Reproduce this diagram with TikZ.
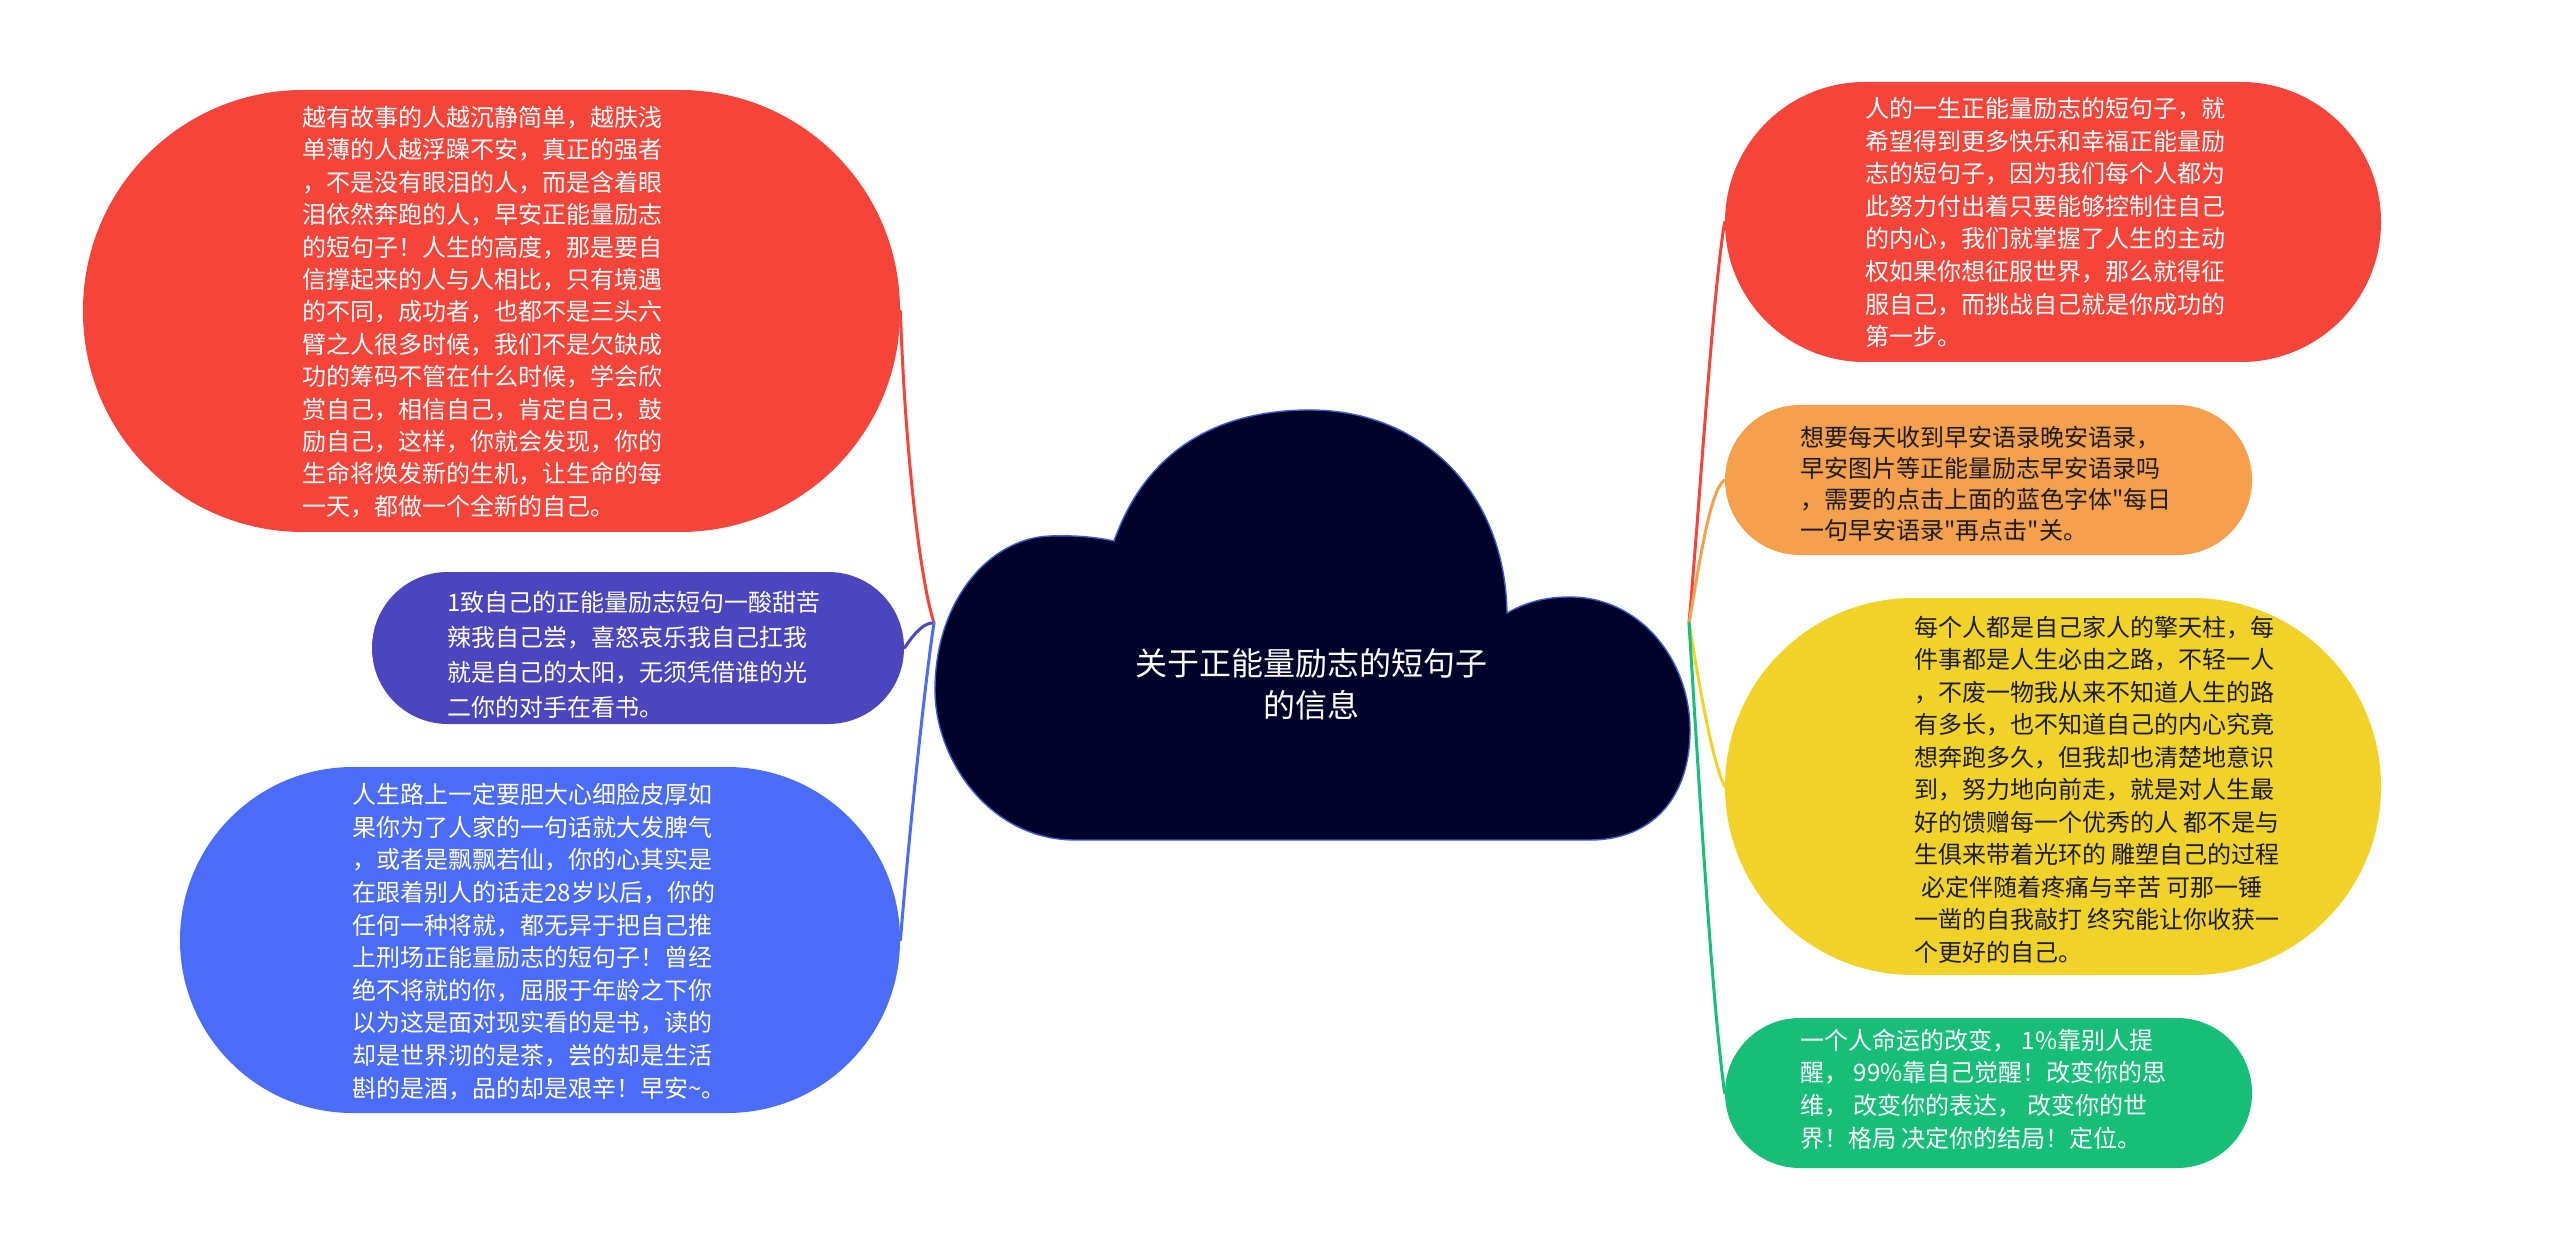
\documentclass[tikz,border=0pt]{standalone}
\usepackage{fontspec}
\newfontfamily\cjk{Noto Sans CJK SC}
\definecolor{cRed}{HTML}{F5443A}
\definecolor{cPurple}{HTML}{4C46BE}
\definecolor{cBlue}{HTML}{4A6CF7}
\definecolor{cOrange}{HTML}{F4A04C}
\definecolor{cYellow}{HTML}{F0D228}
\definecolor{cGreen}{HTML}{16BE78}
\definecolor{cCloud}{HTML}{000229}
\definecolor{cCloudLine}{HTML}{3A5CCC}
\definecolor{cDark}{HTML}{1C1C1C}
\begin{document}
\begin{tikzpicture}[x=0.5pt,y=-0.5pt,
  bubble/.style={rectangle, inner sep=0pt, draw=none},
  txt/.style={inner sep=0pt, align=left, anchor=west},
  link/.style={line width=1.5pt, line cap=round}]
\useasboundingbox (0,0) rectangle (2560,1251);

% central cloud
\filldraw[fill=cCloud, draw=cCloudLine, line width=0.7pt]
  (1075,840) .. controls (990,840) and (935,760) .. (935,690)
  .. controls (935,600) and (990,538) .. (1050,536)
  .. controls (1080,535) and (1100,538) .. (1114,541)
  .. controls (1150,440) and (1230,410) .. (1310,410)
  .. controls (1420,410) and (1505,490) .. (1507,613)
  .. controls (1530,600) and (1550,597) .. (1570,597)
  .. controls (1640,597) and (1690,660) .. (1690,730)
  .. controls (1690,800) and (1650,840) .. (1590,840) -- cycle;
\coordinate (cl) at (934,623);
\coordinate (cr) at (1689,623);
\node[font={\cjk\fontsize{16pt}{21pt}\selectfont}, text=white, align=center, inner sep=0pt] (c) at (1311,684) {关于正能量励志的短句子\\的信息};

% left bubbles
\node[bubble, fill=cRed, minimum width=408.5pt, minimum height=221pt, rounded corners=110pt] (l1) at (491.5,311) {};
\node[bubble, fill=cPurple, minimum width=266pt, minimum height=76pt, rounded corners=37.9pt] (l2) at (638,648) {};
\node[bubble, fill=cBlue, minimum width=360pt, minimum height=173pt, rounded corners=86.4pt] (l3) at (540,940) {};

% right bubbles
\node[bubble, fill=cRed, minimum width=328pt, minimum height=140pt, rounded corners=69.9pt] (r1) at (2053,222) {};
\node[bubble, fill=cOrange, minimum width=263.5pt, minimum height=75pt, rounded corners=37.4pt] (r2) at (1988.5,480) {};
\node[bubble, fill=cYellow, minimum width=328pt, minimum height=188.5pt, rounded corners=94.1pt] (r3) at (2053,786.5) {};
\node[bubble, fill=cGreen, minimum width=263.5pt, minimum height=75pt, rounded corners=37.4pt] (r4) at (1988.5,1093) {};

% texts
\node[txt, text=white, font={\cjk\fontsize{12pt}{16.2pt}\selectfont}] (l1t) at (302,312) {越有故事的人越沉静简单，越肤浅\\单薄的人越浮躁不安，真正的强者\\，不是没有眼泪的人，而是含着眼\\泪依然奔跑的人，早安正能量励志\\的短句子！人生的高度，那是要自\\信撑起来的人与人相比，只有境遇\\的不同，成功者，也都不是三头六\\臂之人很多时候，我们不是欠缺成\\功的筹码不管在什么时候，学会欣\\赏自己，相信自己，肯定自己，鼓\\励自己，这样，你就会发现，你的\\生命将焕发新的生机，让生命的每\\一天，都做一个全新的自己。};
\node[txt, text=white, font={\cjk\fontsize{12pt}{17.5pt}\selectfont}] (l2t) at (447,655) {1致自己的正能量励志短句一酸甜苦\\辣我自己尝，喜怒哀乐我自己扛我\\就是自己的太阳，无须凭借谁的光\\二你的对手在看书。};
\node[txt, text=white, font={\cjk\fontsize{12pt}{16.3pt}\selectfont}] (l3t) at (352,941.5) {人生路上一定要胆大心细脸皮厚如\\果你为了人家的一句话就大发脾气\\，或者是飘飘若仙，你的心其实是\\在跟着别人的话走28岁以后，你的\\任何一种将就，都无异于把自己推\\上刑场正能量励志的短句子！曾经\\绝不将就的你，屈服于年龄之下你\\以为这是面对现实看的是书，读的\\却是世界沏的是茶，尝的却是生活\\斟的是酒，品的却是艰辛！早安\textasciitilde。};
\node[txt, text=white, font={\cjk\fontsize{12pt}{16.3pt}\selectfont}] (r1t) at (1865,222.5) {人的一生正能量励志的短句子，就\\希望得到更多快乐和幸福正能量励\\志的短句子，因为我们每个人都为\\此努力付出着只要能够控制住自己\\的内心，我们就掌握了人生的主动\\权如果你想征服世界，那么就得征\\服自己，而挑战自己就是你成功的\\第一步。};
\node[txt, text=cDark, font={\cjk\fontsize{12pt}{15.5pt}\selectfont}] (r2t) at (1800,483.5) {想要每天收到早安语录晚安语录，\\早安图片等正能量励志早安语录吗\\，需要的点击上面的蓝色字体"每日\\一句早安语录"再点击"关。};
\node[txt, text=cDark, font={\cjk\fontsize{12pt}{16.25pt}\selectfont}] (r3t) at (1914,789.5) {每个人都是自己家人的擎天柱，每\\件事都是人生必由之路，不轻一人\\，不废一物我从来不知道人生的路\\有多长，也不知道自己的内心究竟\\想奔跑多久，但我却也清楚地意识\\到，努力地向前走，就是对人生最\\好的馈赠每一个优秀的人 都不是与\\生俱来带着光环的 雕塑自己的过程\\\hspace*{0.3em}必定伴随着疼痛与辛苦 可那一锤\\一凿的自我敲打 终究能让你收获一\\个更好的自己。};
\node[txt, text=white, font={\cjk\fontsize{12pt}{16.3pt}\selectfont}] (r4t) at (1800,1089) {一个人命运的改变， 1\%靠别人提\\醒， 99\%靠自己觉醒！改变你的思\\维， 改变你的表达， 改变你的世\\界！格局 决定你的结局！定位。};

% connectors
\draw[link, draw=cRed] (l1.east) .. controls (905,450) and (920,580) .. (cl);
\draw[link, draw=cPurple] (l2.east) .. controls (915,632) and (925,622) .. (cl);
\draw[link, draw=cBlue] (l3.east) .. controls (912,800) and (928,660) .. (cl);
\draw[link, draw=cRed] (cr) .. controls (1700,500) and (1712,300) .. (r1.west);
\draw[link, draw=cOrange] (cr) .. controls (1700,560) and (1710,490) .. (r2.west);
\draw[link, draw=cYellow] (cr) .. controls (1700,690) and (1712,760) .. (r3.west);
\draw[link, draw=cGreen] (cr) .. controls (1700,800) and (1712,1000) .. (r4.west);
\end{tikzpicture}
\end{document}
